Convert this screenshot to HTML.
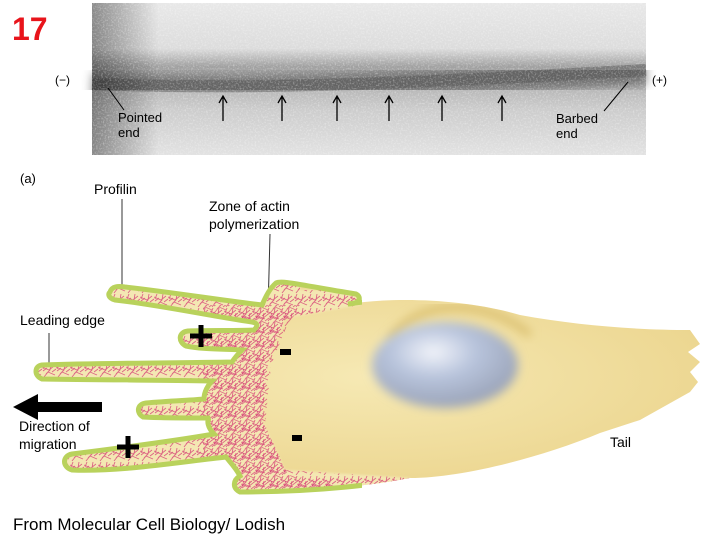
<!DOCTYPE html>
<html><head><meta charset="utf-8"><style>
body{margin:0;background:#fff;width:720px;height:540px;overflow:hidden}
svg{display:block}
text{font-family:"Liberation Sans",sans-serif}
</style></head><body>
<svg width="720" height="540" viewBox="0 0 720 540" xmlns="http://www.w3.org/2000/svg">
<defs>
<linearGradient id="ph" x1="0" y1="0" x2="0" y2="1">
<stop offset="0" stop-color="#e8e8e8"/><stop offset="0.3" stop-color="#dcdcdc"/>
<stop offset="0.42" stop-color="#a0a0a0"/><stop offset="0.7" stop-color="#cccccc"/><stop offset="1" stop-color="#e2e2e2"/>
</linearGradient>
<linearGradient id="lf" x1="0" y1="0" x2="1" y2="0">
<stop offset="0" stop-color="#000" stop-opacity="0.4"/><stop offset="0.12" stop-color="#000" stop-opacity="0"/>
</linearGradient>
<radialGradient id="nuc" cx="0.42" cy="0.35" r="0.65">
<stop offset="0" stop-color="#f2f4fa"/><stop offset="0.45" stop-color="#b8c4dc"/><stop offset="1" stop-color="#9aa3b8"/>
</radialGradient>
<radialGradient id="bod" cx="0.5" cy="0.45" r="0.6">
<stop offset="0" stop-color="#f6e9b4"/><stop offset="1" stop-color="#ebd48c"/>
</radialGradient>
<filter id="bl"><feGaussianBlur stdDeviation="5"/></filter>
<filter id="bl2"><feGaussianBlur stdDeviation="1"/></filter>
<filter id="noise" x="0" y="0" width="1" height="1">
<feTurbulence type="fractalNoise" baseFrequency="0.6" numOctaves="2" seed="3"/>
<feColorMatrix type="matrix" values="0 0 0 0 1  0 0 0 0 1  0 0 0 0 1  0 0 0 1.6 -0.75"/>
</filter>
<pattern id="mesh" width="14" height="14" patternUnits="userSpaceOnUse">
<g stroke="#cf1f6a" stroke-width="0.9" fill="none">
<path d="M0,3 L7,6 L12,2 M2,13 L6,8 L13,11 M9,0 L8,6 L4,10 M1,7 L5,4 M10,8 L14,5 M3,0 L1,5"/>
</g>
</pattern>
<clipPath id="cell"><path id="cp" d="M110,292 C112,286 118,286 125,287 C170,292 220,300 262,305 C266,296 270,288 276,283 C282,280 300,285 356,294 C362,297 360,304 348,304 C400,296 470,300 520,315 C580,326 640,330 690,330 L700,344 688,352 700,362 690,372 698,382 690,392 L640,420 600,433 C540,458 460,478 410,478 C380,484 320,492 240,492 C232,488 233,480 240,476 C236,468 230,462 226,457 C180,462 120,472 72,470 C62,467 62,456 72,454 C120,448 180,440 214,434 C208,428 206,420 210,418 C190,418 160,418 143,417 C136,413 137,404 146,403 C170,401 195,400 204,399 C204,392 208,385 212,381 C180,380 100,380 42,379 C34,376 34,366 42,365 C100,363 180,363 232,362 C236,356 240,352 242,350 C220,349 200,349 186,346 C178,342 178,332 188,331 C210,330 236,331 254,330 C258,326 258,323 252,322 C210,316 160,305 115,300 C108,298 108,294 110,292Z"/></clipPath>
<clipPath id="left"><rect x="0" y="250" width="362" height="260"/></clipPath>
</defs>
<text x="12" y="40" font-size="32" font-weight="bold" fill="#e8141b">17</text>
<rect x="92" y="3" width="554" height="152" fill="url(#ph)"/>
<path d="M92,86 C250,92 400,86 646,72" stroke="#4a4a4a" stroke-width="26" fill="none" opacity="0.6" filter="url(#bl)"/>
<path d="M92,84 C250,90 400,84 646,70" stroke="#555" stroke-width="12" fill="none" opacity="0.5"/>
<rect x="92" y="3" width="554" height="152" fill="url(#lf)"/>
<rect x="92" y="3" width="554" height="152" filter="url(#noise)" opacity="0.6"/>
<text x="55" y="84" font-size="12">(−)</text>
<text x="652" y="84" font-size="12">(+)</text>
<line x1="108" y1="88" x2="124" y2="110" stroke="#000"/>
<line x1="628" y1="82" x2="604" y2="111" stroke="#000"/>
<text x="118" y="122" font-size="13">Pointed</text><text x="118" y="137" font-size="13">end</text>
<text x="556" y="123" font-size="13">Barbed</text><text x="556" y="138" font-size="13">end</text>
<g stroke="#000" stroke-width="1.3" fill="none">
<path d="M223,121V97M219,103L223,96L227,103"/><path d="M282,121V97M278,103L282,96L286,103"/>
<path d="M337,121V97M333,103L337,96L341,103"/><path d="M389,121V97M385,103L389,96L393,103"/>
<path d="M442,121V97M438,103L442,96L446,103"/><path d="M502,121V97M498,103L502,96L506,103"/>
</g>
<text x="20" y="183" font-size="13">(a)</text>
<text x="94" y="194" font-size="14">Profilin</text>
<text x="209" y="211" font-size="14">Zone of actin</text>
<text x="209" y="229" font-size="14">polymerization</text>
<line x1="122" y1="199" x2="122" y2="290" stroke="#333"/>
<line x1="270" y1="234" x2="268" y2="312" stroke="#333"/>
<text x="20" y="325" font-size="14">Leading edge</text>
<line x1="49" y1="333" x2="49" y2="368" stroke="#333"/>
<use href="#cp" fill="url(#bod)"/>
<g clip-path="url(#cell)">
<path d="M390,340 C420,295 490,300 530,335" stroke="#d6b966" stroke-width="6" fill="none" filter="url(#bl)"/>
<path d="M0,250 L300,250 L300,290 L360,290 L360,305 L285,318 L268,360 L262,420 L285,470 L410,478 L410,500 L0,500Z" fill="#f4e7b3" filter="url(#bl2)"/>
<path d="M0,250 L300,250 L300,290 L360,290 L360,305 L285,318 L268,360 L262,420 L285,470 L410,478 L410,500 L0,500Z" fill="url(#mesh)" opacity="0.65"/>
<path d="M300,300 L285,318 L268,360 L262,420 L285,470 L330,478 L330,500 L200,500 L200,300Z" fill="url(#mesh)" opacity="0.6" transform="translate(3,5)"/>
</g>
<g clip-path="url(#left)"><use href="#cp" fill="none" stroke="#b9d25c" stroke-width="5"/></g>
<ellipse cx="445" cy="365" rx="73" ry="43" fill="url(#nuc)" filter="url(#bl)"/>
<path d="M190,336h22M201,325v22" stroke="#000" stroke-width="5"/>
<path d="M117,447h22M128,436v22" stroke="#000" stroke-width="5"/>
<rect x="280" y="349" width="11" height="6" fill="#000"/>
<rect x="292" y="435" width="10" height="6" fill="#000"/>
<rect x="35" y="402" width="67" height="10" fill="#000"/>
<polygon points="13,407 38,394 38,420" fill="#000"/>
<text x="19" y="431" font-size="14">Direction of</text>
<text x="19" y="449" font-size="14">migration</text>
<text x="610" y="447" font-size="14">Tail</text>
<text x="13" y="530" font-size="17">From Molecular Cell Biology/ Lodish</text>
</svg>
</body></html>
